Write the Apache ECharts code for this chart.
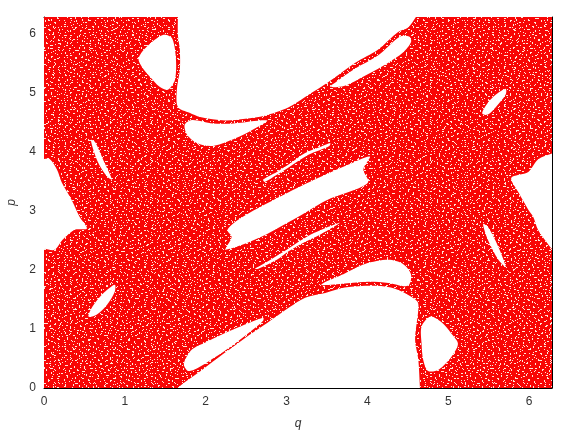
<!DOCTYPE html>
<html><head><meta charset="utf-8">
<style>html,body{margin:0;padding:0;background:#fff}#c{width:578px;height:434px}</style>
<script src="https://cdn.jsdelivr.net/npm/echarts@6/dist/echarts.min.js"></script>
</head><body><div id="c"></div>
<script>
var TWO_PI = 6.2832;
var tickLabels = [0,1,2,3,4,5,6];
var seaBounds = [[0,0],[TWO_PI,0],[TWO_PI,TWO_PI],[0,TWO_PI]];

// White regions, in (q, p)
var regionA = [[1.656,6.6],[1.656,6.2832],[1.656,5.98],[1.68,5.73],[1.68,5.39],[1.643,5.05],[1.656,4.76],[1.80,4.66],[1.93,4.59],[2.24,4.53],[2.49,4.56],[2.73,4.61],[3.02,4.75],[3.23,4.93],[3.43,5.10],[3.58,5.24],[3.85,5.51],[4.13,5.73],[4.38,6.03],[4.50,6.10],[4.60,6.2832],[4.75,6.6]];
var regionC = [[1.45,-0.2],[1.656,0],[1.705,0.06],[1.89,0.24],[2.09,0.45],[2.34,0.70],[2.585,0.94],[2.76,1.10],[3.04,1.37],[3.23,1.53],[3.48,1.61],[3.72,1.70],[4.05,1.73],[4.29,1.70],[4.50,1.58],[4.62,1.46],[4.63,1.33],[4.59,0.82],[4.63,0.48],[4.65,0],[4.66,-0.2]];
var islandB = [[3.54,5.10],[3.62,5.19],[3.85,5.41],[4.13,5.63],[4.40,5.95],[4.52,5.95],[4.54,5.86],[4.44,5.68],[4.26,5.51],[3.97,5.29],[3.72,5.12]];
var islandD = [[1.73,0.41],[1.83,0.65],[2.01,0.78],[2.34,0.99],[2.71,1.19],[2.71,1.14],[2.585,0.99],[2.34,0.73],[2.09,0.50],[1.89,0.33],[1.78,0.29]];
var islandE = [[3.43,1.75],[3.72,1.94],[3.97,2.10],[4.26,2.17],[4.44,2.10],[4.54,1.92],[4.50,1.73],[4.26,1.78],[4.01,1.80],[3.72,1.77]];
var islandF = [[1.17,5.58],[1.27,5.78],[1.47,5.98],[1.58,5.93],[1.63,5.61],[1.62,5.22],[1.53,5.05],[1.43,5.10],[1.31,5.27],[1.22,5.42]];
var islandG = [[1.74,4.46],[1.83,4.54],[2.09,4.48],[2.34,4.48],[2.76,4.53],[2.63,4.41],[2.42,4.26],[2.09,4.10],[1.89,4.15],[1.77,4.29]];
var islandH = [[0.58,4.20],[0.63,4.17],[0.73,3.87],[0.84,3.53],[0.78,3.58],[0.665,3.83]];
var islandI = [[5.71,5.07],[5.71,4.97],[5.59,4.76],[5.49,4.63],[5.42,4.65],[5.49,4.83],[5.59,4.97]];
var islandJ = [[4.03,3.92],[3.95,3.70],[4.01,3.49],[3.85,3.36],[3.51,3.19],[3.23,2.97],[3.04,2.82],[2.76,2.61],[2.46,2.43],[2.24,2.34],[2.26,2.39],[2.32,2.56],[2.27,2.68],[2.46,2.90],[3.02,3.31],[3.43,3.58],[3.76,3.78]];
var islandK = [[2.71,3.53],[2.88,3.66],[3.02,3.78],[3.23,3.98],[3.43,4.09],[3.54,4.15],[3.53,4.10],[3.27,3.95],[3.02,3.73],[2.88,3.61],[2.73,3.49]];
var islandL = [[2.61,2.02],[2.76,2.14],[3.02,2.36],[3.30,2.60],[3.66,2.80],[3.43,2.61],[3.18,2.44],[3.02,2.31],[2.88,2.17],[2.65,2.02]];
var islandM = [[0.875,1.75],[0.875,1.63],[0.78,1.41],[0.65,1.24],[0.55,1.21],[0.60,1.38],[0.73,1.60]];
var islandN = [[5.43,2.78],[5.49,2.73],[5.62,2.39],[5.71,2.05],[5.62,2.17],[5.49,2.51]];
var islandO = [[4.78,1.21],[4.91,1.12],[5.04,0.92],[5.12,0.75],[5.04,0.53],[4.88,0.31],[4.75,0.29],[4.69,0.48],[4.67,0.75],[4.67,1.04]];
var regionP = [[-0.2,3.88],[0,3.88],[0.07,3.88],[0.16,3.70],[0.22,3.48],[0.34,3.19],[0.44,2.90],[0.53,2.70],[0.38,2.68],[0.23,2.51],[0.13,2.34],[0,2.36],[-0.2,2.36]];
var regionQ = [[6.5,4.05],[6.2832,3.97],[6.11,3.87],[5.99,3.66],[5.78,3.56],[5.87,3.31],[5.99,3.02],[6.05,2.90],[6.11,2.68],[6.21,2.48],[6.2832,2.36],[6.5,2.2]];
var whiteRegions = [regionA,regionC,islandB,islandD,islandE,islandF,islandG,islandH,islandI,islandJ,islandK,islandL,islandM,islandN,islandO,regionP,regionQ];

// Hand-drawn repeating textures for the speckled fill (style only).
// The layers have different periods, so together they do not show a visible repeat.
var speckleLayerA = [
"..x...............xx............x.......",
"..x.......x..............x..............",
"...............................x.....x..",
"......xx............x.........x.........",
"...............x....x...................",
"x.........x...............xx............",
"........................................",
"....x..............x..............x.....",
"....x.....xxx.................x.........",
".......................x................",
"...............x.............x.......xx.",
"..xx....................................",
"...........x.............x..............",
".....................x........x.........",
"......x..........x.....................x",
"......x...................xx............",
"............x...........................",
".x.........................x.......x....",
".................xx................x....",
"........x...............................",
"........xx..............x......x.........".slice(0,40),
"..................................x.....",
"...x..........x..........x..............",
"...............x.....................x..",
".........................x.......x......",
"......x................................x",
".............x..........xx..............",
"..x..........x....x.............x.......",
"...................................x....",
"........xx.......................xx.....",
"...................x.......x............",
"x...........................x...........",
".............x..........................",
".....x..............x.............x.....",
"............xx..........................",
"...x.....................xx............x",
".......................................x",
"..............x.......x.......x.........",
".......x................................",
"..................x...........x......x.."
];
var speckleLayerB = [
"...x...........x...............",
".......x..............x........",
"...........xx..................",
"x...................x.......x..",
"......................x........",
".....x.........x...............",
".....x.....................xx..",
"...............................",
"..........x.........xx.........",
"..x............................",
".................x.........x...",
".......x.........x.............",
"...........................x...",
"x............xx.............x..",
"......................x........",
"...x.......x...................",
"...x.............x......x......",
"..........................x....",
"........xx.....................",
"....................x..........",
"..x...........x.....x.......x..",
"..............x................",
"........x..............xx......",
"...............................",
"..x................x...........",
".........x.......x.............",
".....x........................x",
".............xx.........x......",
".......................x.......",
"x...........................x..",
"........x.........xx...........",
"........x......................",
"...x.......................x...",
"............x.........x........",
"..................x............",
"..x.....xx..................x..",
"...............x.......x......."
];

function makeSpeckle() {
  var w = 578, h = 434;
  var cv = document.createElement('canvas');
  cv.width = w; cv.height = h;
  var ctx = cv.getContext('2d');
  ctx.fillStyle = '#f80606';
  ctx.fillRect(0,0,w,h);
  ctx.fillStyle = '#ffe6da';
  [speckleLayerA, speckleLayerB].forEach(function(tile){
    var th = tile.length, tw = tile[0].length;
    for (var y=0;y<h;y++) {
      var row = tile[y%th];
      for (var x=0;x<w;x++) if (row[x%tw]==='x') ctx.fillRect(x,y,1,1);
    }
  });
  return cv;
}

function polygonItem(points, fill, api, smooth) {
  return {
    type:'polygon',
    shape:{points:points.map(function(pt){return api.coord(pt);}), smooth:smooth},
    style:{fill:fill, stroke:null}
  };
}

var speckle = {image: makeSpeckle(), repeat:'repeat'};
var font = '"Liberation Sans", sans-serif';

function makeAxis(pos, labels) {
  return {
    type:'value', min:0, max:TWO_PI, position:pos, z:1,
    axisLine:{show:true, onZero:false, lineStyle:{color:'#000',width:1}},
    axisTick:{show:true, inside:true, length:4, customValues:tickLabels, lineStyle:{color:'#000'}},
    axisLabel:{show:labels, margin:8, color:'#333', fontFamily:font, fontSize:12, customValues:tickLabels},
    splitLine:{show:false}
  };
}
var xBottom = makeAxis('bottom', true);
xBottom.name='q'; xBottom.nameLocation='middle'; xBottom.nameGap=30;
xBottom.nameTextStyle={color:'#333', fontFamily:font, fontSize:12, fontStyle:'italic'};
var yLeft = makeAxis('left', true);
yLeft.name='p'; yLeft.nameLocation='middle'; yLeft.nameGap=26;
yLeft.nameTextStyle={color:'#333', fontFamily:font, fontSize:12, fontStyle:'italic'};

var chart = echarts.init(document.getElementById('c'), null, {renderer:'canvas'});
chart.setOption({
  animation:false,
  backgroundColor:'#fff',
  grid:{left:44, right:26, top:17, bottom:46, outerBoundsMode:'none'},
  xAxis:[xBottom, makeAxis('top', false)],
  yAxis:[yLeft, makeAxis('right', false)],
  series:[
    {type:'custom', coordinateSystem:'cartesian2d', silent:true, z:5, clip:true,
     data:[0],
     renderItem:function(params, api){ return polygonItem(seaBounds, speckle, api, 0); }},
    {type:'custom', coordinateSystem:'cartesian2d', silent:true, z:6, clip:true,
     data:whiteRegions.map(function(r,i){return i;}),
     renderItem:function(params, api){ return polygonItem(whiteRegions[params.dataIndex], '#fff', api, 0.3); }}
  ]
});
</script></body></html>
